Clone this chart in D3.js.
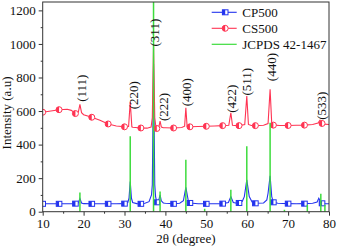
<!DOCTYPE html>
<html>
<head>
<meta charset="utf-8">
<script src="https://cdn.jsdelivr.net/npm/d3@7"></script>
<style>
  body { margin: 0; background: #fff; }
  svg text { font-family: "Liberation Serif", "Times New Roman", serif; fill: #111; }
  .axis path, .axis line { stroke: #333; }
</style>
</head>
<body>
<svg width="338" height="248" font-family="Liberation Serif, serif"></svg>
<script>
// CS500 (red) pattern, [2theta, intensity]
var cs500 = [[10,593],[12,600],[14,608],[16,611],[17,604],[18,585],[18.7,592],[19.1,640],[19.5,590],[20,578],
  [22,563],[24,545],[26,523],[28,511],[30,506],[31.0,508],[31.4,655],[31.8,506],[32,503],[34,499],[35.5,498],
  [36.5,505],[36.8,560],[37.1,1000],[37.4,560],[37.7,500],[37.9,496],[38.4,505],[38.7,540],[39.0,505],[39.5,500],
  [40,500],[42,499],[44,502],[44.7,510],[45.0,620],[45.3,510],[46,506],[48,508],[50,509],[52,511],[54,513],
  [55.5,515],[56.0,590],[56.4,515],[57,514],[58,513],[59.4,520],[59.9,690],[60.3,520],[61,514],[62,513],
  [64,515],[65.1,525],[65.6,730],[66.0,525],[66.4,516],[68,514],[70,514],[72,515],[74,516],[76,520],
  [77.3,528],[77.8,545],[78.3,526],[79,522],[80,520]];

// CP500 (blue) pattern
var cp500 = [[10,47],[12,47],[14,47],[16,47],[18,48],[18.7,52],[19.1,78],[19.5,52],[20,48],[22,47],[24,47],
  [26,47],[28,47],[30,48],[30.8,55],[31.1,80],[31.4,180],[31.7,80],[32.0,55],[33,48],[34,47],[35,50],[36,60],
  [36.6,100],[36.8,160],[37.1,880],[37.4,160],[37.6,90],[37.9,56],[38.3,62],[38.7,100],[39.0,65],[39.5,52],[40,50],[42,47],
  [43.5,50],[44.4,65],[45.0,145],[45.6,65],[46,52],[48,47],[50,47],[52,47],[54,48],[55.4,55],[56.0,90],
  [56.6,55],[57.5,50],[58,52],[58.8,62],[59.3,90],[59.9,190],[60.5,90],[61.2,58],[62,50],[64,52],[64.8,70],
  [65.1,110],[65.6,214],[66.0,90],[66.4,56],[67.5,50],[70,48],[72,47],[74,48],[76,50],[77.1,58],[77.5,80],
  [77.9,62],[78.3,50],[79,48],[80,47]];

// JCPDS 42-1467 reference lines
var refDeg = [19.1, 31.4, 37.1, 38.7, 45.0, 49.6, 56.0, 59.9, 65.6, 69.1, 74.7, 78.0, 79.0];
var refInt = [115, 450, 1300, 121, 310, 18, 131, 390, 530, 12, 42, 107, 42];

// where symbols sit on the curves
var markerDeg = [10, 14, 18, 22, 26, 30, 34, 37.9, 42, 46, 50, 54, 58, 62, 66.4, 70, 74, 78.3];

// peak labels: text, 2theta, intensity of label start
var hklText = ["(111)", "(220)", "(311)", "(222)", "(400)", "(422)", "(511)", "(440)", "(533)"];
var hklDeg = [19.6, 32.2, 37.3, 39.5, 45.2, 56.2, 60.0, 66.0, 78.2];
var hklInt = [655, 610, 985, 540, 628, 590, 692, 778, 548];

var seriesNames = ["CP500", "CS500", "JCPDS 42-1467"];
var xTicks = [10, 20, 30, 40, 50, 60, 70, 80];
var yTicks = [0, 200, 400, 600, 800, 1000, 1200];

var colors = {cp: "#2233ee", cs: "#ff3352", ref: "#3ddc3d"};

var svg = d3.select("svg"),
  margin = {top: 2, right: 9, bottom: 36.3, left: 42.7},
  width = +svg.attr("width") - margin.left - margin.right,
  height = +svg.attr("height") - margin.top - margin.bottom;

var x = d3.scaleLinear().domain([10, 80]).range([0, width]),
  y = d3.scaleLinear().domain([0, 1250]).range([height, 0]);

var g = svg.append("g").attr("transform", "translate(" + margin.left + "," + margin.top + ")");

g.append("clipPath").attr("id", "plotclip")
  .append("rect").attr("width", width).attr("height", height);

var plot = g.append("g").attr("clip-path", "url(#plotclip)");

var line = d3.line().x(function(d) { return x(d[0]); }).y(function(d) { return y(d[1]); });

// half filled symbols like the original software draws
function drawMarkers(sel, data, color, square) {
  var pts = data.filter(function(d) { return markerDeg.indexOf(d[0]) >= 0; });
  var m = sel.selectAll(null).data(pts).enter().append("g")
    .attr("transform", function(d) { return "translate(" + x(d[0]) + "," + y(d[1]) + ")"; });
  addSymbol(m, color, square);
}

function addSymbol(m, color, square) {
  if (square) {
    m.append("rect").attr("x", -2.8).attr("y", -2.5).attr("width", 5.6).attr("height", 5)
      .attr("fill", "#fff").attr("stroke", color).attr("stroke-width", 1);
    m.append("rect").attr("x", -2.8).attr("y", -2.5).attr("width", 2.8).attr("height", 5).attr("fill", color);
  } else {
    m.append("circle").attr("r", 3).attr("fill", "#fff").attr("stroke", color).attr("stroke-width", 1);
    m.append("path").attr("d", "M0,-3A3,3 0 0,0 0,3Z").attr("fill", color);
  }
}

plot.append("path").datum(cp500).attr("d", line)
  .attr("fill", "none").attr("stroke", colors.cp).attr("stroke-width", 1.1);
drawMarkers(plot, cp500, colors.cp, true);

plot.append("path").datum(cs500).attr("d", line)
  .attr("fill", "none").attr("stroke", colors.cs).attr("stroke-width", 1.1);
drawMarkers(plot, cs500, colors.cs, false);

plot.selectAll(".ref").data(refDeg).enter().append("line")
  .attr("class", "ref")
  .attr("x1", function(d) { return x(d); }).attr("x2", function(d) { return x(d); })
  .attr("y1", y(0))
  .attr("y2", function(d, i) { return y(refInt[i]); })
  .attr("stroke", colors.ref).attr("stroke-width", 1.5);

// peak indices
g.selectAll(".hkl").data(hklText).enter().append("text")
  .attr("class", "hkl")
  .attr("transform", function(d, i) { return "translate(" + x(hklDeg[i]) + "," + y(hklInt[i]) + ") rotate(-90)"; })
  .attr("dy", "0.33em")
  .attr("font-size", 13)
  .text(function(d) { return d; });

// axes
g.append("g").attr("class", "axis")
  .attr("transform", "translate(0," + height + ")")
  .call(d3.axisBottom(x).tickValues(xTicks).tickSize(4).tickPadding(3.5).tickFormat(d3.format("d")));
g.append("g").attr("class", "axis")
  .attr("transform", "translate(0," + height + ")")
  .call(d3.axisBottom(x).tickValues([15, 25, 35, 45, 55, 65, 75]).tickSize(2).tickFormat(""));
g.append("g").attr("class", "axis")
  .call(d3.axisLeft(y).tickValues(yTicks).tickSize(4).tickPadding(3).tickFormat(d3.format("d")));
g.append("g").attr("class", "axis")
  .call(d3.axisLeft(y).tickValues([100, 300, 500, 700, 900, 1100]).tickSize(2).tickFormat(""));
g.selectAll(".axis").attr("font-family", null);
g.selectAll(".axis text").attr("font-size", 13);
g.selectAll(".axis .domain").remove();

g.append("rect").attr("width", width).attr("height", height)
  .attr("fill", "none").attr("stroke", "#333").attr("stroke-width", 1);

g.append("text")
  .attr("x", width / 2).attr("y", height + 31.5)
  .attr("text-anchor", "middle").attr("font-size", 13)
  .text("2θ (degree)");

svg.append("text")
  .attr("transform", "translate(11," + 113 + ") rotate(-90)")
  .attr("text-anchor", "middle").attr("font-size", 13)
  .text("Intensity (a.u)");

// legend
var legend = svg.append("g").attr("transform", "translate(211.7,12.3)");
var legColors = [colors.cp, colors.cs, colors.ref];
seriesNames.forEach(function(name, i) {
  var row = legend.append("g").attr("transform", "translate(0," + (i * 16) + ")");
  row.append("line").attr("x1", 0).attr("x2", 25).attr("stroke", legColors[i]).attr("stroke-width", i == 2 ? 1.2 : 1.1);
  if (i < 2) {
    var m = row.append("g").attr("transform", "translate(13.5,0)");
    addSymbol(m, legColors[i], i == 0);
  }
  row.append("text").attr("x", 30.6).attr("dy", "0.35em").attr("font-size", 13).text(name);
});
</script>
</body>
</html>
